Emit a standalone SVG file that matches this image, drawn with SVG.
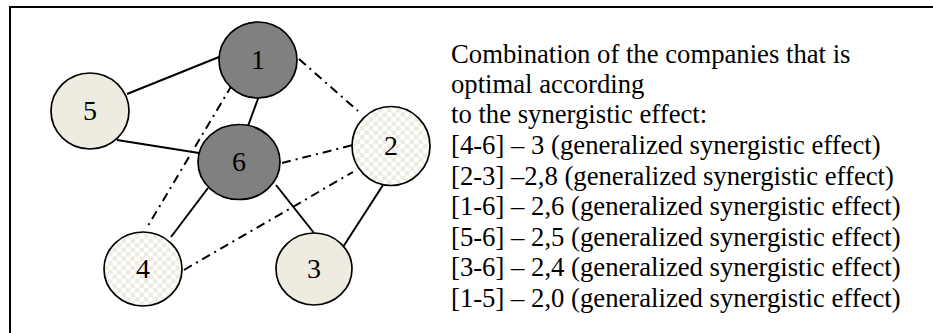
<svg xmlns="http://www.w3.org/2000/svg" width="933" height="333" viewBox="0 0 933 333">
<defs>
<pattern id="chk" width="9" height="9" patternUnits="userSpaceOnUse">
<rect width="9" height="9" fill="#ffffff"/>
<rect width="4.5" height="4.5" fill="#eeece1"/>
<rect x="4.5" y="4.5" width="4.5" height="4.5" fill="#eeece1"/>
</pattern>
<style>
.node{stroke:#000;stroke-width:1.7}
.dark{fill:#808080}
.light{fill:#eeece1}
.chk{fill:url(#chk)}
.lbl{font-family:"Liberation Serif","Times New Roman",serif;font-size:28px;fill:#000;text-anchor:middle}
.solid{stroke:#000;stroke-width:2;fill:none}
.dd{stroke:#000;stroke-width:2;fill:none;stroke-dasharray:9,5,2,5}
.txt{font-family:"Liberation Serif","Times New Roman",serif;font-size:26.7px;fill:#000}
</style>
</defs>
<rect x="10" y="7" width="940" height="340" fill="#fff" stroke="#000" stroke-width="2"/>
<g id="connectors">
<line class="solid" x1="127" y1="94" x2="219" y2="57"/>
<line class="solid" x1="117" y1="140" x2="199" y2="153"/>
<line class="solid" x1="259" y1="96" x2="248" y2="126"/>
<line class="dd" x1="299" y1="59" x2="358" y2="111"/>
<line class="dd" x1="232" y1="85" x2="146" y2="229"/>
<line class="dd" x1="282" y1="163" x2="353" y2="145"/>
<line class="dd" x1="184" y1="270" x2="353" y2="172"/>
<line class="solid" x1="208" y1="188" x2="171" y2="237"/>
<line class="solid" x1="276" y1="185" x2="314" y2="233"/>
<line class="solid" x1="383" y1="185" x2="343" y2="247"/>
</g>
<g id="node1"><ellipse class="node dark" cx="258" cy="60" rx="39" ry="38"/><text class="lbl" x="258" y="69">1</text></g>
<g id="node5"><ellipse class="node light" cx="90" cy="111" rx="39" ry="38"/><text class="lbl" x="90" y="120">5</text></g>
<g id="node6"><ellipse class="node dark" cx="239" cy="162" rx="41" ry="37.5"/><text class="lbl" x="239" y="171">6</text></g>
<g id="node2"><ellipse class="node chk" cx="391" cy="146" rx="39" ry="39.5"/><text class="lbl" x="391" y="155">2</text></g>
<g id="node4"><ellipse class="node chk" cx="143" cy="269" rx="39" ry="37"/><text class="lbl" x="143" y="278">4</text></g>
<g id="node3"><ellipse class="node light" cx="314" cy="269" rx="38" ry="36"/><text class="lbl" x="314" y="278">3</text></g>
<g id="legend">
<text class="txt" x="451" y="63">Combination of the companies that is</text>
<text class="txt" x="451" y="93">optimal according</text>
<text class="txt" x="451" y="123">to the synergistic effect:</text>
<text class="txt" x="451" y="154">[4-6] – 3 (generalized synergistic effect)</text>
<text class="txt" x="451" y="185">[2-3] –2,8 (generalized synergistic effect)</text>
<text class="txt" x="451" y="215">[1-6] – 2,6 (generalized synergistic effect)</text>
<text class="txt" x="451" y="246">[5-6] – 2,5 (generalized synergistic effect)</text>
<text class="txt" x="451" y="276">[3-6] – 2,4 (generalized synergistic effect)</text>
<text class="txt" x="451" y="307">[1-5] – 2,0 (generalized synergistic effect)</text>
</g>
</svg>
